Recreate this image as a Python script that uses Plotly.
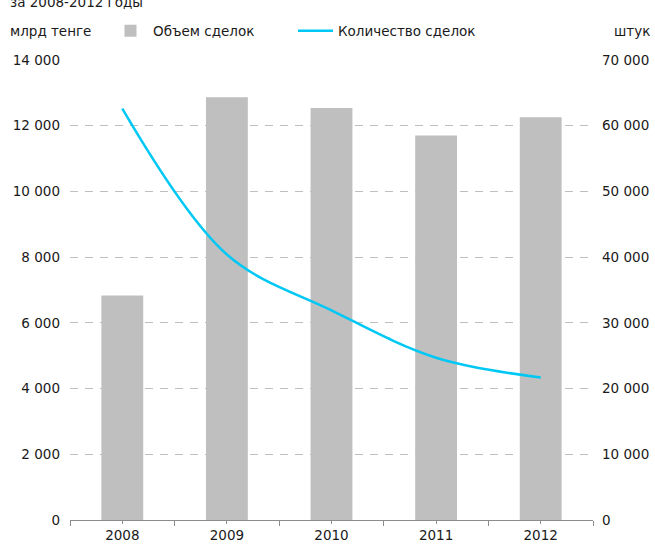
import plotly.graph_objects as go

years = [2008, 2009, 2010, 2011, 2012]
volume_bn_tenge = [6830, 12870, 12540, 11700, 12260]
deal_count = [62600, 40400, 31900, 24700, 21700]

left_ticks = [0, 2000, 4000, 6000, 8000, 10000, 12000, 14000]
right_ticks = [0, 10000, 20000, 30000, 40000, 50000, 60000, 70000]


def fmt(v):
    return f"{v:,}".replace(",", " ")


FONT = "Verdana, DejaVu Sans, sans-serif"
FS = 13.5
TXT = "#1a1a1a"

fig = go.Figure()
fig.add_trace(go.Bar(
    x=years, y=volume_bn_tenge, name="Объем сделок",
    marker=dict(color="#BFBFBF", line=dict(width=0)),
    width=0.4, yaxis="y",
))
fig.add_trace(go.Scatter(
    x=years, y=deal_count, name="Количество сделок",
    mode="lines", line=dict(color="#00C8F5", width=2.5, shape="spline", smoothing=1.0),
    yaxis="y2",
))

fig.update_layout(
    width=655, height=545,
    margin=dict(l=70, r=62, t=60, b=25, autoexpand=False),
    paper_bgcolor="white", plot_bgcolor="white",
    font=dict(family=FONT, size=FS, color=TXT),
    showlegend=True,
    legend=dict(
        orientation="h", x=(108 - 70) / 523, xanchor="left",
        y=1 + 29 / 460, yanchor="middle",
        font=dict(family=FONT, size=FS, color=TXT),
        bgcolor="rgba(0,0,0,0)", itemwidth=35, entrywidth=135,
        traceorder="normal",
    ),
    xaxis=dict(
        range=[2007.5, 2012.5], tickvals=years, ticktext=[str(y) for y in years],
        showgrid=False, zeroline=False, automargin=False,
        showline=True, linecolor="#8C8C8C", linewidth=1,
        ticks="outside", ticklen=3, tickcolor="#8C8C8C",
        minor=dict(tick0=2007.5, dtick=1, ticks="outside", ticklen=5, tickcolor="#8C8C8C"),
        tickfont=dict(family=FONT, size=FS, color=TXT),
    ),
    yaxis=dict(
        range=[0, 14000], tickvals=left_ticks, ticktext=[fmt(v) for v in left_ticks],
        showgrid=True, gridcolor="#BFBFBF", gridwidth=1, griddash="8px,7px",
        zeroline=False, showline=False, ticks="", ticklabelstandoff=9, automargin=False,
        tickfont=dict(family=FONT, size=FS, color=TXT),
    ),
    yaxis2=dict(
        range=[0, 70000], tickvals=right_ticks, ticktext=[fmt(v) for v in right_ticks],
        overlaying="y", side="right", showgrid=False, zeroline=False, showline=False,
        ticks="", ticklabelstandoff=8, automargin=False,
        tickfont=dict(family=FONT, size=FS, color=TXT),
    ),
    annotations=[
        dict(text="млрд тенге", xref="paper", yref="paper", x=(8 - 70) / 523, y=1 + 29 / 460,
             xanchor="left", yanchor="middle", showarrow=False,
             font=dict(family=FONT, size=FS, color=TXT)),
        dict(text="штук", xref="paper", yref="paper", x=1 + (652 - 593) / 523, y=1 + 29 / 460,
             xanchor="right", yanchor="middle", showarrow=False,
             font=dict(family=FONT, size=FS, color=TXT)),
        dict(text="за 2008-2012 годы", xref="paper", yref="paper", x=(8 - 70) / 523,
             y=1 + 58 / 460, xanchor="left", yanchor="middle", showarrow=False,
             font=dict(family=FONT, size=FS, color=TXT)),
    ],
)

fig.write_html("out.html", config={"displayModeBar": False},
               post_script="document.body.style.margin='0';")
